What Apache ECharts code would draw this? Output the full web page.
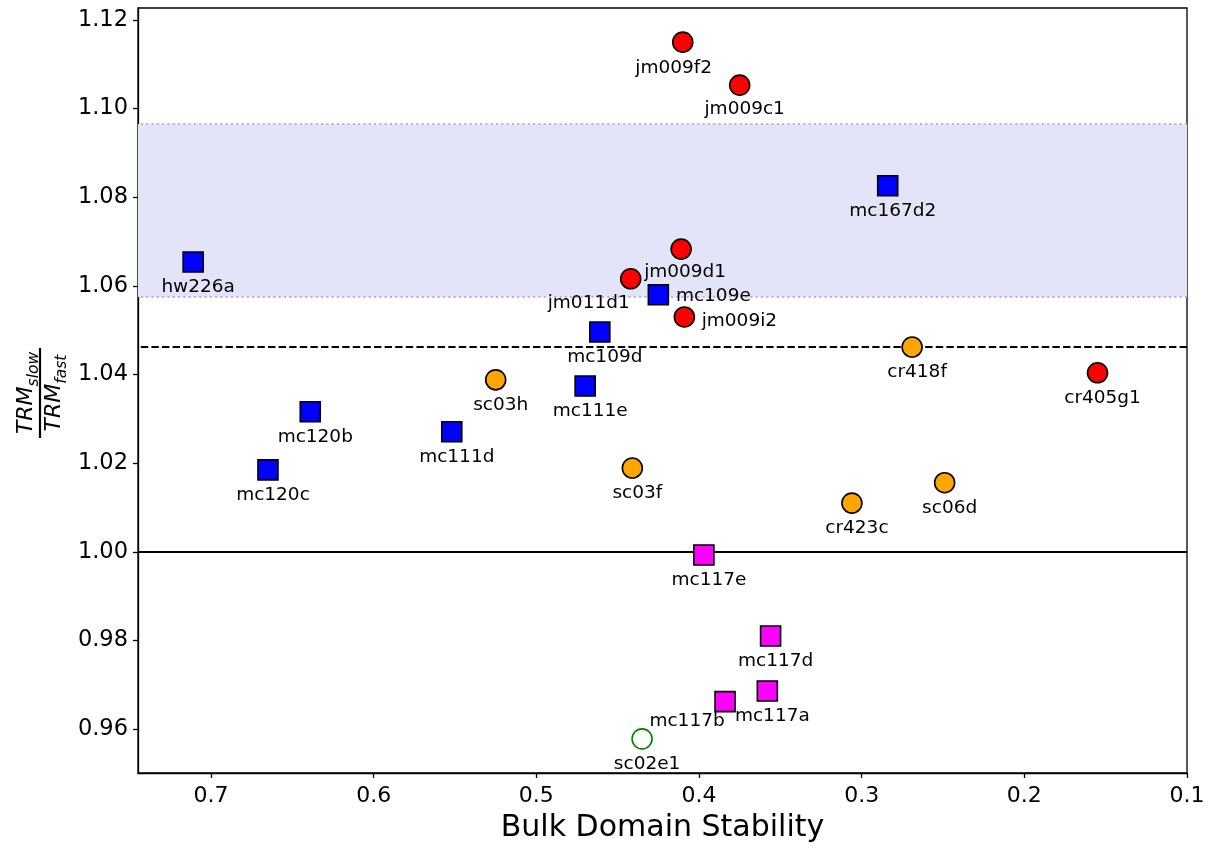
<!DOCTYPE html>
<html>
<head>
<meta charset="utf-8">
<script src="https://cdn.jsdelivr.net/npm/echarts@6/dist/echarts.min.js"></script>
<style>
  html, body { margin: 0; padding: 0; background: #fff; }
  #chart { width: 1217px; height: 848px; }
</style>
</head>
<body>
<div id="chart"></div>
<script>
// Samples: bulk domain stability vs TRM slow/fast cooling ratio
const sampleNames = ['jm009f2', 'jm009c1', 'jm009d1', 'jm011d1', 'jm009i2', 'cr405g1',
  'mc167d2', 'hw226a', 'mc109e', 'mc109d', 'mc111e', 'mc120b', 'mc111d', 'mc120c',
  'cr418f', 'sc03h', 'sc03f', 'sc06d', 'cr423c',
  'mc117e', 'mc117d', 'mc117a', 'mc117b',
  'sc02e1'];
const stability = [0.410, 0.375, 0.411, 0.442, 0.409, 0.155,
  0.284, 0.711, 0.425, 0.461, 0.470, 0.639, 0.552, 0.665,
  0.269, 0.525, 0.441, 0.249, 0.306,
  0.397, 0.356, 0.358, 0.384,
  0.435];
const trmRatio = [1.1150, 1.1053, 1.0683, 1.0616, 1.0530, 1.0404,
  1.0826, 1.0654, 1.0580, 1.0496, 1.0374, 1.0316, 1.0271, 1.0185,
  1.0462, 1.0388, 1.0189, 1.0156, 1.0110,
  0.9993, 0.9810, 0.9686, 0.9662,
  0.9578];
const sampleGroup = ['red', 'red', 'red', 'red', 'red', 'red',
  'blue', 'blue', 'blue', 'blue', 'blue', 'blue', 'blue', 'blue',
  'orange', 'orange', 'orange', 'orange', 'orange',
  'magenta', 'magenta', 'magenta', 'magenta',
  'open'];

// Reference levels
const unityRatio = 1.0;
const meanRatio = 1.0462;
const bandLow = 1.0575;
const bandHigh = 1.0965;

// Axis ticks
const xTicks = [0.1, 0.2, 0.3, 0.4, 0.5, 0.6, 0.7];
const yTicks = [0.96, 0.98, 1.00, 1.02, 1.04, 1.06, 1.08, 1.10, 1.12];

// Label placement (pixel offsets from marker centre)
const labelOffset = {
  jm009f2: [-9, 26], jm009c1: [5, 24], jm009d1: [4, 23], jm011d1: [-42, 24],
  jm009i2: [55, 4], mc109e: [55, 1], mc117b: [-38, 20]
};
const defaultOffset = [5, 25];

const groupStyle = {
  red:     { symbol: 'circle', size: 20, color: '#ff0000', border: '#000000' },
  blue:    { symbol: 'rect',   size: 20, color: '#0000ff', border: '#000000' },
  orange:  { symbol: 'circle', size: 20, color: '#ffa500', border: '#000000' },
  magenta: { symbol: 'rect',   size: 20, color: '#ff00ff', border: '#000000' },
  open:    { symbol: 'circle', size: 20, color: '#ffffff', border: '#008000' }
};

const FONT = 'DejaVu Sans';

function buildSeries(group) {
  const st = groupStyle[group];
  const data = [];
  sampleNames.forEach((n, i) => {
    if (sampleGroup[i] !== group) return;
    data.push({
      name: n,
      value: [stability[i], trmRatio[i]],
      label: { offset: labelOffset[n] || defaultOffset }
    });
  });
  return {
    type: 'scatter',
    z: 5,
    symbol: st.symbol,
    symbolSize: st.size,
    itemStyle: { color: st.color, borderColor: st.border, borderWidth: 1.6, opacity: 1 },
    label: {
      show: true,
      position: 'inside',
      formatter: p => p.name,
      color: '#000',
      fontFamily: FONT,
      fontSize: 18.5
    },
    emphasis: { disabled: true },
    data
  };
}

const series = [
  {
    type: 'scatter',
    data: [],
    z: 1,
    silent: true,
    markArea: {
      silent: true,
      itemStyle: { color: '#e3e4f7' },
      data: [[{ yAxis: bandLow }, { yAxis: bandHigh }]]
    },
    markLine: {
      silent: true,
      precision: 6,
      symbol: ['none', 'none'],
      label: { show: false },
      data: [
        { yAxis: bandLow, lineStyle: { color: '#a8b6e2', width: 2, type: [2, 3.3] } },
        { yAxis: bandHigh, lineStyle: { color: '#a8b6e2', width: 2, type: [2, 3.3] } },
        { yAxis: unityRatio, lineStyle: { color: '#000', width: 2, type: 'solid' } },
        { yAxis: meanRatio, lineStyle: { color: '#000', width: 2, type: [7.4, 3.2] } }
      ]
    }
  },
  buildSeries('red'),
  buildSeries('blue'),
  buildSeries('orange'),
  buildSeries('magenta'),
  buildSeries('open')
];

const chart = echarts.init(document.getElementById('chart'), null, { renderer: 'canvas' });
chart.setOption({
  animation: false,
  backgroundColor: '#ffffff',
  grid: {
    left: 138, right: 30, top: 8, bottom: 75,
    show: true, borderColor: '#000', borderWidth: 1.3, backgroundColor: 'transparent'
  },
  xAxis: {
    type: 'value',
    inverse: true,
    min: 0.1,
    max: 0.7449,
    name: 'Bulk Domain Stability',
    nameLocation: 'middle',
    nameGap: 40,
    nameTextStyle: { fontFamily: FONT, fontSize: 30, color: '#000' },
    axisLine: { show: true, onZero: false, lineStyle: { color: '#000', width: 1.3 } },
    axisTick: { show: true, length: 5, lineStyle: { color: '#000', width: 1.3 }, customValues: xTicks },
    axisLabel: {
      color: '#000', fontFamily: FONT, fontSize: 22, margin: 12,
      customValues: xTicks,
      formatter: v => v.toFixed(1)
    },
    splitLine: { show: false }
  },
  yAxis: {
    type: 'value',
    min: 0.9501,
    max: 1.1227,
    axisLine: { show: true, onZero: false, lineStyle: { color: '#000', width: 1.3 } },
    axisTick: { show: true, length: 5, lineStyle: { color: '#000', width: 1.3 }, customValues: yTicks },
    axisLabel: {
      color: '#000', fontFamily: FONT, fontSize: 22.5, margin: 10,
      customValues: yTicks,
      formatter: v => v.toFixed(2)
    },
    splitLine: { show: false }
  },
  graphic: [
    {
      type: 'group',
      x: 40,
      y: 393,
      rotation: Math.PI / 2,
      children: [
        {
          type: 'text',
          x: 0, y: -3,
          style: {
            text: '{m|TRM}{s|slow}',
            align: 'center',
            verticalAlign: 'bottom',
            fill: '#000',
            rich: {
              m: { fontFamily: FONT, fontStyle: 'italic', fontSize: 22, fill: '#000', verticalAlign: 'bottom' },
              s: { fontFamily: FONT, fontStyle: 'italic', fontSize: 15.5, fill: '#000', verticalAlign: 'bottom', padding: [0, 0, -5, 0] }
            }
          }
        },
        {
          type: 'line',
          shape: { x1: -45, y1: 0, x2: 45, y2: 0 },
          style: { stroke: '#000', lineWidth: 2.2 }
        },
        {
          type: 'text',
          x: 0, y: 3,
          style: {
            text: '{m|TRM}{s|fast}',
            align: 'center',
            verticalAlign: 'top',
            fill: '#000',
            rich: {
              m: { fontFamily: FONT, fontStyle: 'italic', fontSize: 22, fill: '#000', verticalAlign: 'bottom' },
              s: { fontFamily: FONT, fontStyle: 'italic', fontSize: 15.5, fill: '#000', verticalAlign: 'bottom', padding: [0, 0, -5, 0] }
            }
          }
        }
      ]
    }
  ],
  series
});
</script>
</body>
</html>
